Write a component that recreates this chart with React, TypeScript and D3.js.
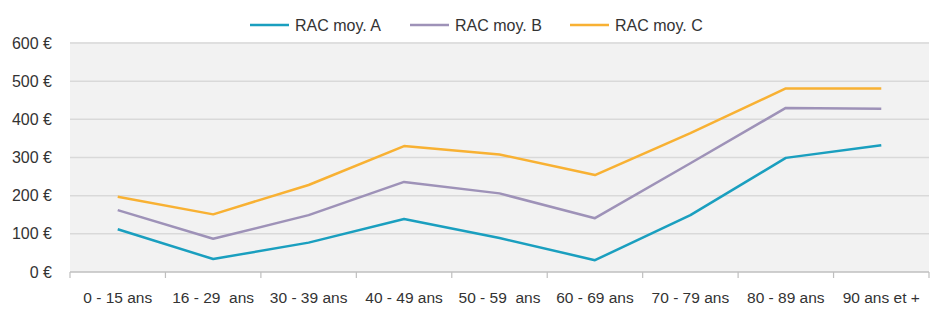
import React from "react";
import * as d3 from "d3";

const categories = ["0 - 15 ans", "16 - 29  ans", "30 - 39 ans", "40 - 49 ans", "50 - 59  ans", "60 - 69 ans", "70 - 79 ans", "80 - 89 ans", "90 ans et +"];
const seriesA = [112, 34, 77, 139, 89, 31, 149, 299, 332];
const seriesB = [162, 87, 149, 236, 206, 141, 285, 430, 428];
const seriesC = [197, 151, 228, 330, 308, 254, 364, 481, 481];
const seriesNames = ["RAC moy. A", "RAC moy. B", "RAC moy. C"];
const yTicks = [0, 100, 200, 300, 400, 500, 600];

const colors = ["#1a9fbf", "#9e92b8", "#f8b133"];
const W = 940, H = 323;
const left = 70, right = 929, top = 43, bottom = 272;
const font = "'Liberation Sans', Arial, sans-serif";
const textColor = "#333333";

export default function App() {
  const x = d3.scaleBand<string>().domain(categories).range([left, right]);
  const y = d3.scaleLinear().domain([0, 600]).range([bottom, top]);
  const line = d3.line<number>()
    .x((_, i) => (x(categories[i]) as number) + x.bandwidth() / 2)
    .y((d) => y(d));
  const all = [seriesA, seriesB, seriesC];
  const boundaries = categories.map((c) => x(c) as number).concat([right]);
  const legendX = [250, 410, 570];
  return (
    <svg width={W} height={H} style={{ position: "absolute", left: 0, top: 0 }}>
      <rect x={0} y={0} width={W} height={H} fill="#ffffff" />
      <rect x={left} y={top - 1} width={right - left} height={bottom - top + 1} fill="#f2f2f2" />
      {yTicks.filter((t) => t > 0).map((t) => (
        <line key={t} x1={left} x2={right} y1={y(t)} y2={y(t)} stroke="#d9d9d9" strokeWidth={1.5} />
      ))}
      <line x1={left} x2={right} y1={bottom} y2={bottom} stroke="#bfbfbf" strokeWidth={1.5} />
      {boundaries.map((b, i) => (
        <line key={i} x1={b} x2={b} y1={bottom} y2={bottom + 6} stroke="#bfbfbf" strokeWidth={1.2} />
      ))}
      {yTicks.map((t) => (
        <text key={t} x={52} y={y(t) + 5.5} textAnchor="end" fontFamily={font} fontSize={16} fill={textColor}>
          {t} €
        </text>
      ))}
      {categories.map((c) => (
        <text key={c} x={(x(c) as number) + x.bandwidth() / 2} y={303} textAnchor="middle" fontFamily={font} fontSize={15.5} fill={textColor} style={{ whiteSpace: "pre" }}>
          {c}
        </text>
      ))}
      {all.map((s, i) => (
        <path key={i} d={line(s) || ""} fill="none" stroke={colors[i]} strokeWidth={2.5} strokeLinejoin="round" />
      ))}
      {seriesNames.map((n, i) => (
        <g key={n}>
          <line x1={legendX[i]} x2={legendX[i] + 39} y1={25} y2={25} stroke={colors[i]} strokeWidth={2.5} />
          <text x={legendX[i] + 45} y={30.5} fontFamily={font} fontSize={16} fill={textColor}>{n}</text>
        </g>
      ))}
    </svg>
  );
}
